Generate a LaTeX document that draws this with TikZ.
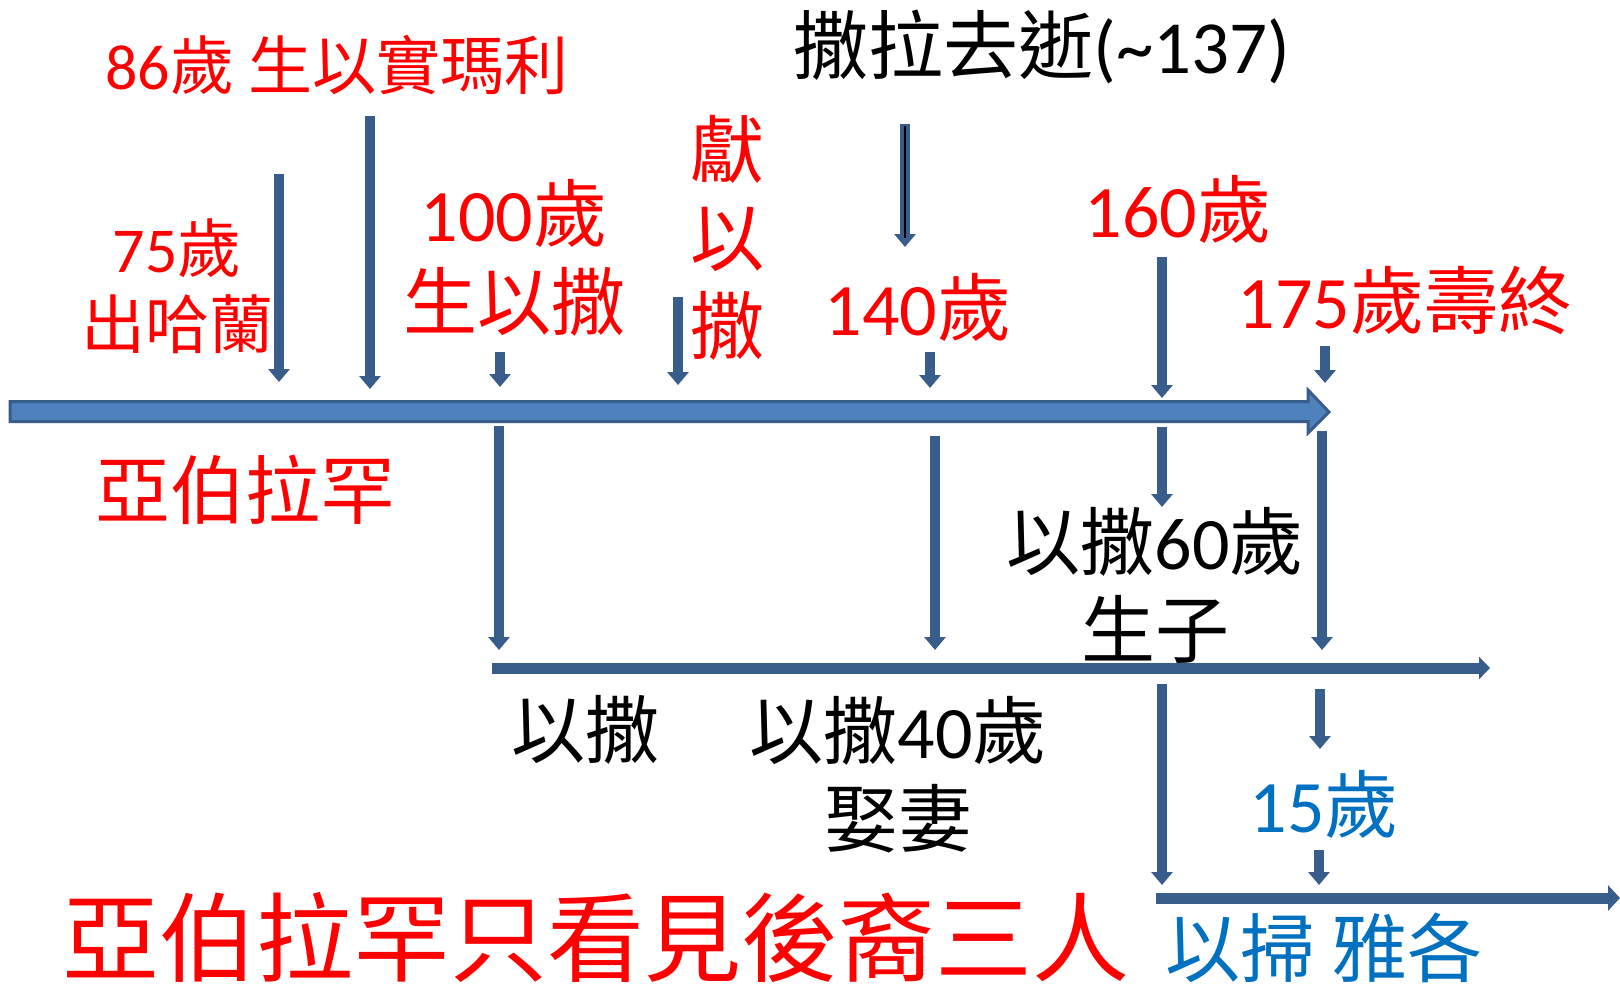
\documentclass[tikz,border=0pt]{standalone}
\usepackage{fontspec}
\setmainfont{Carlito}
\newfontfamily\zh{Noto Sans CJK TC}
\usetikzlibrary{arrows.meta}
\definecolor{barblue}{HTML}{4F81BD}
\definecolor{linkblue}{HTML}{385D8A}
\definecolor{textblue}{HTML}{0070C0}
\begin{document}
\begin{tikzpicture}[x=1pt,y=-1pt,
  lab/.style={inner sep=0pt,align=center},
  fsmall/.style={font=\fontsize{64}{76}\selectfont},
  fmid/.style={font=\fontsize{74}{88}\selectfont},
  tick/.style={draw=linkblue,line width=10pt,-{Triangle[width=21pt,length=13pt]}}]
\useasboundingbox (0,0) rectangle (1620,986);
% main time line
\draw[fill=barblue,draw=linkblue,line width=3pt] (10,401.5) -- (1308,401.5) -- (1308,390) -- (1329,412) -- (1308,433) -- (1308,421.5) -- (10,421.5) -- cycle;
% second and third lines
\draw[linkblue,line width=11pt,-{Triangle[width=22pt,length=11pt]}] (492,668) -- (1490,668);
\draw[linkblue,line width=11pt,-{Triangle[width=25pt,length=12pt]}] (1156,898) -- (1620,898);
% small arrows
\foreach \x/\a/\b in {279/174/382, 370/116/389, 500/352/387, 678/297/385,
  905/124/247, 930/352/388, 1162/257/398, 1325/346/383,
  499/426/650, 935/436/650, 1162/427/507, 1322/431/650,
  1162/684/885, 1320/689/749, 1319/850/885}
  \draw[tick] (\x,\a) -- (\x,\b);
\draw[black,line width=1.5pt] (905,126) -- (905,238);
% labels
\node[lab,fsmall,red] (born86) at (337,65) {86{\zh 歲 生以實瑪利}};
\node[lab,fsmall,red] (left75) at (177,286) {75{\zh 歲}\\{\zh 出哈蘭}};
\node[lab,fmid,red] (born100) at (514,258) {100{\zh 歲}\\{\zh 生以撒}};
\node[lab,fmid,red] (offer) at (727,238) {{\zh 獻}\\{\zh 以}\\{\zh 撒}};
\node[lab,font=\fontsize{75}{88}\selectfont] (sarah) at (1042,47) {{\zh 撒拉去逝}(\textasciitilde137)};
\node[lab,fmid,red] (age140) at (918,307) {140{\zh 歲}};
\node[lab,fmid,red] (age160) at (1178,209) {160{\zh 歲}};
\node[lab,fmid,red] (age175) at (1405,300) {175{\zh 歲壽終}};
\node[lab,font=\fontsize{75}{88}\selectfont,red] (abraham) at (245,490) {\zh 亞伯拉罕};
\node[lab,fmid] (isaac60) at (1155,585) {{\zh 以撒}60{\zh 歲}\\{\zh 生子}};
\node[lab,fmid] (isaac) at (585,730) {\zh 以撒};
\node[lab,fmid] (isaac40) at (898,775) {{\zh 以撒}40{\zh 歲}\\{\zh 娶妻}};
\node[lab,fmid,textblue] (age15) at (1324,804) {15{\zh 歲}};
\node[lab,font=\fontsize{75}{88}\selectfont,textblue] (twins) at (1324,948) {\zh 以掃 雅各};
\node[lab,font=\fontsize{97}{110}\selectfont,red] (summary) at (596,937) {\zh 亞伯拉罕只看見後裔三人};
\end{tikzpicture}
\end{document}
